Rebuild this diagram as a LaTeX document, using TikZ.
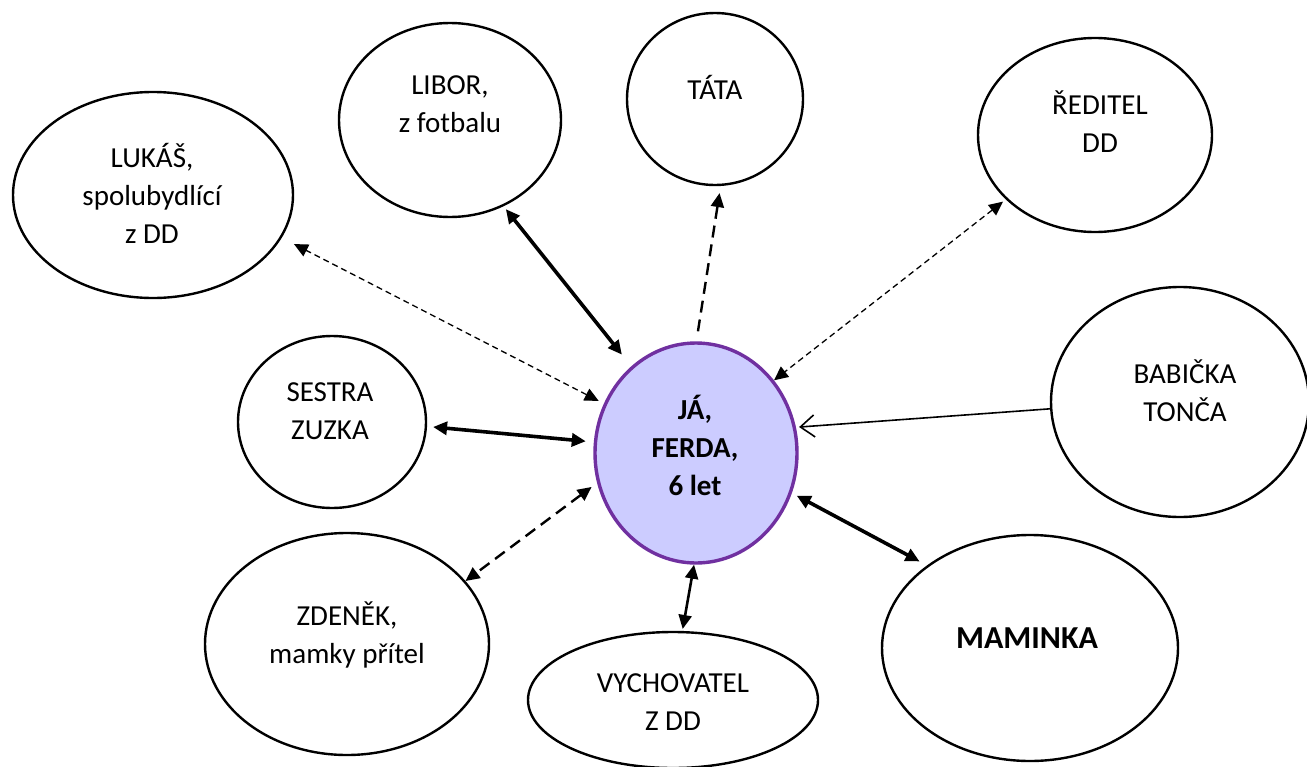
\documentclass[tikz,border=0pt]{standalone}
\usepackage{fontspec}
\setmainfont{Carlito}
\usetikzlibrary{arrows.meta,shapes.geometric}
\definecolor{jafill}{HTML}{CCCCFF}
\definecolor{jadraw}{HTML}{7030A0}
\begin{document}
\begin{tikzpicture}[x=1pt,y=-1pt,
  bub/.style={ellipse, draw=black, line width=2.4pt, inner sep=0pt, fill=white},
  lbl/.style={align=center, font=\fontsize{29}{38}\selectfont, inner sep=0pt},
  dbl/.style={arrows={Triangle[length=14pt,width=13pt]-Triangle[length=14pt,width=13pt]}},
  sgl/.style={arrows={-Triangle[length=14pt,width=13pt]}},
  openhead/.style={arrows={-Straight Barb[length=14pt,width=22pt]}},
  thinDash/.style={line width=1.3pt, dash pattern=on 6pt off 4pt},
  midDash/.style={line width=2.4pt, dash pattern=on 12pt off 7pt},
  heavy/.style={line width=3.6pt},
  medium/.style={line width=2.6pt}]
\useasboundingbox (0,0) rectangle (1307,766);
\fill[white] (0,0) rectangle (1307,766);

% bubbles
\node[ellipse, draw=jadraw, fill=jafill, line width=3.4pt, inner sep=0pt,
      minimum width=202pt, minimum height=220pt] (ja) at (696,453) {};
\node[bub, minimum width=280pt, minimum height=206pt] (luk) at (153,195) {};
\node[bub, minimum width=222pt, minimum height=194pt] (lib) at (450,120) {};
\node[bub, minimum width=176pt, minimum height=172pt] (tata) at (715,99) {};
\node[bub, minimum width=234pt, minimum height=194pt] (red) at (1095,135) {};
\node[bub, minimum width=188pt, minimum height=172pt] (ses) at (332,422) {};
\node[bub, minimum width=258pt, minimum height=230pt] (bab) at (1180,402) {};
\node[bub, minimum width=284pt, minimum height=222pt] (zde) at (347,644) {};
\node[bub, minimum width=290pt, minimum height=136pt] (vych) at (673,700) {};
\node[bub, minimum width=296pt, minimum height=226pt] (mam) at (1030,648) {};

% labels
\node[lbl] (ja-t) at (695,445) {\textbf{JÁ,}\\\textbf{FERDA,}\\\textbf{6 let}};
\node[lbl] (luk-t) at (152,193) {LUKÁŠ,\\spolubydlící\\z DD};
\node[lbl] (lib-t) at (450,104) {LIBOR,\\z fotbalu};
\node[lbl] (tata-t) at (715,87) {TÁTA};
\node[lbl] (red-t) at (1100,122) {ŘEDITEL\\DD};
\node[lbl] (ses-t) at (330,411) {SESTRA\\ZUZKA};
\node[lbl] (bab-t) at (1185,391) {BABIČKA\\TONČA};
\node[lbl] (zde-t) at (347,635) {ZDENĚK,\\mamky přítel};
\node[lbl] (vych-t) at (673,702) {VYCHOVATEL\\Z DD};
\node[lbl, font=\fontsize{32}{38}\selectfont] (mam-t) at (1027,638) {\textbf{MAMINKA}};

% connectors
\draw[thinDash, dbl] ([shift={(-5,-3)}]ja.152) -- ([shift={(13,5)}]luk.341);
\draw[heavy, dbl] ([shift={(2,3)}]lib.302) -- ([shift={(-9,-12)}]ja.127);
\draw[midDash, sgl] ([shift={(0,-10)}]ja.89) -- ([shift={(0,7)}]tata.273);
\draw[thinDash, dbl] ([shift={(-3,2)}]red.216) -- (ja.43);
\draw[line width=1.6pt, openhead] (bab.183) -- ([shift={(3,-1)}]ja.14);
\draw[heavy, dbl] ([shift={(6,0)}]ses.357) -- ([shift={(-8,-1)}]ja.174);
\draw[midDash, dbl] ([shift={(-6,2)}]ja.198) -- (zde.28);
\draw[medium, dbl] (ja.269) -- ([shift={(0,-2)}]vych.82);
\draw[heavy, dbl] ([shift={(5,2)}]ja.337) -- ([shift={(-6,-5)}]mam.142);
\end{tikzpicture}
\end{document}
